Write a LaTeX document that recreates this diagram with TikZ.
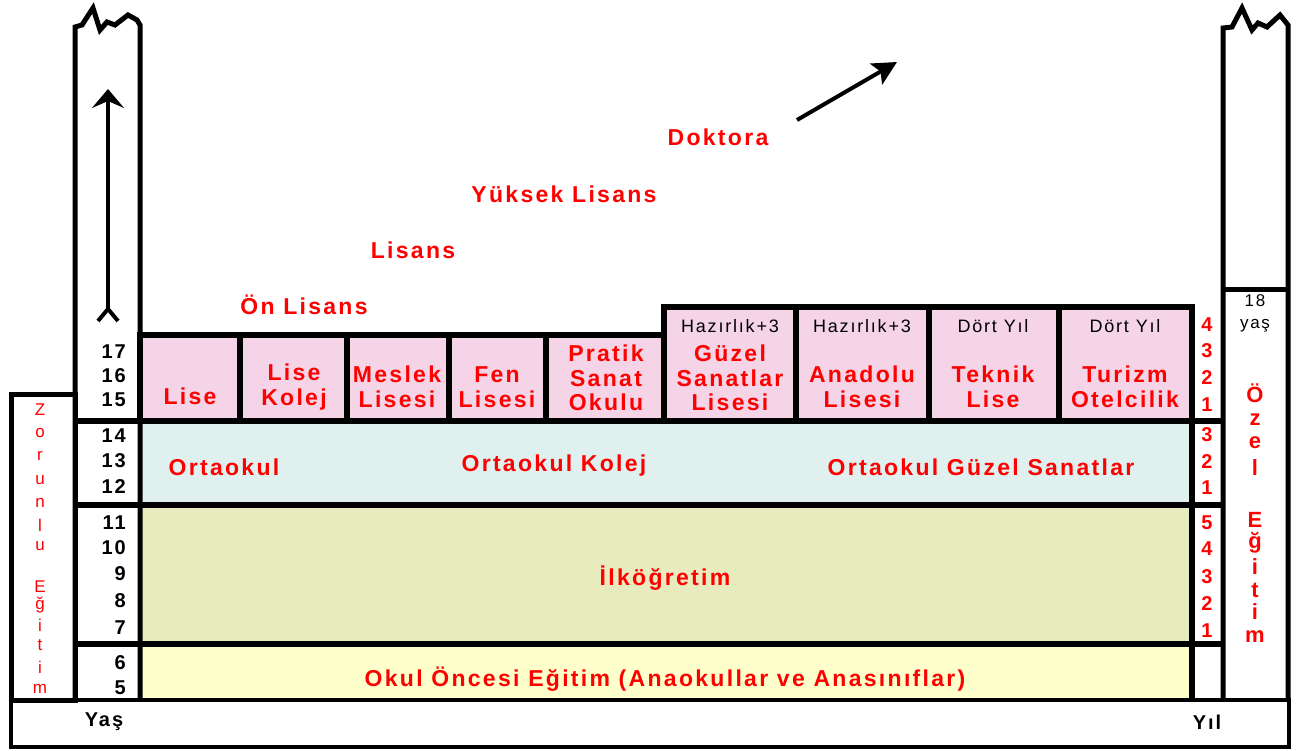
\documentclass[tikz,border=0pt]{standalone}
\usepackage{fontspec}
\setmainfont[LetterSpace=10]{Liberation Sans}
\usetikzlibrary{positioning,arrows.meta}
\definecolor{lisepink}{HTML}{F4D4E6}
\definecolor{ortamavi}{HTML}{E0F0EF}
\definecolor{ilkyesil}{HTML}{E8EBBD}
\definecolor{okulsari}{HTML}{FFFFCC}

\begin{document}
\begin{tikzpicture}[x=1pt,y=-1pt,on grid,node distance=56pt and 110pt,
    kutu/.style={draw,line width=6pt},
    lise/.style={kutu,fill=lisepink},
    etiket/.style={text=red,align=center,inner sep=0pt,
      font=\bfseries\fontsize{23}{24.5}\selectfont},
    sure/.style={align=center,inner sep=0pt,font=\fontsize{18}{22}\selectfont},
    yas/.style={anchor=east,inner sep=0pt,font=\bfseries\fontsize{20}{22}\selectfont},
    yil/.style={text=red,inner sep=0pt,font=\bfseries\fontsize{20}{22}\selectfont},
    zor/.style={text=red,inner sep=0pt,font=\fontsize{17}{18}\selectfont},
    ozel/.style={text=red,inner sep=0pt,font=\bfseries\fontsize{22}{22}\selectfont}
    ]
\useasboundingbox (0,0) rectangle (1296,751);

% renkli kusaklar
\fill[ortamavi] (140,421) rectangle (1192,505);
\fill[ilkyesil] (140,505) rectangle (1192,644);
\fill[okulsari] (140,644) rectangle (1192,700);

% lise kutulari
\foreach \a/\b in {140/239.5,239.5/346.5,346.5/448.5,448.5/545.5,545.5/664}
  \draw[lise] (\a,335) rectangle (\b,421);
\foreach \a/\b in {664/796,796/928.5,928.5/1058.5,1058.5/1192}
  \draw[lise] (\a,307) rectangle (\b,421);

\draw[kutu] (75,421) -- (1222,421) (75,505) -- (1222,505) (75,644) -- (1222,644);
\draw[kutu] (1192,421) -- (1192,700);
\draw[line width=5pt] (11,700) rectangle (75,394);
\draw[line width=4pt] (11,700) rectangle (1289,747);

% kirik uclu sutunlar
\draw[line width=5pt] (75,700) -- (75,27) -- (82,25) -- (93,8) -- (100,30) -- (107,22)
  -- (115,25) -- (128,15) -- (137,20) -- (140,25) -- (140,700);
\draw[line width=5pt] (1223,700) -- (1223,28) -- (1232,27) -- (1242,8) -- (1252,30)
  -- (1258,23) -- (1267,27) -- (1280,15) -- (1288,25) -- (1288,700);
\draw[line width=5pt] (1223,290) -- (1288,290);

\coordinate (okalt) at (108,323);
\coordinate (okust) at (108,89);
\draw[line width=4pt,{Straight Barb[reversed,length=12pt,width=20pt]}-{Stealth[length=19pt,width=32pt,inset=7pt]}] (okalt) -- (okust);

% yuksekogretim
\node[etiket] (onl) at (304,305) {Ön Lisans};
\node[etiket] (lis) [above right=55pt and 109pt of onl] {Lisans};
\node[etiket] (ylis) [above right=56pt and 151pt of lis] {Yüksek Lisans};
\node[etiket] (dok) [above right=57pt and 154pt of ylis] {Doktora};
\coordinate (dokbas) at (797,120);
\coordinate (dokuc) at (897,62);
\draw[line width=4pt,-{Stealth[length=24pt,width=24pt,inset=5pt]}] (dokbas) -- (dokuc);

% liseler
\node[etiket] (lise) at (190,396) {Lise};
\node[etiket] (kolej) at (294,387) {Lise\\Kolej};
\node[etiket] (meslek) at (397,387) {Meslek\\Lisesi};
\node[etiket] (fen) at (497,387) {Fen\\Lisesi};
\node[etiket] (pratik) at (606,378) {Pratik\\Sanat\\Okulu};
\node[sure] (hz1) at (730,326) {Hazırlık+3};
\node[etiket] (guzel) at (730,378) {Güzel\\Sanatlar\\Lisesi};
\node[sure] (hz2) at (862,326) {Hazırlık+3};
\node[etiket] (anadolu) at (862,387) {Anadolu\\Lisesi};
\node[sure] (dy1) at (993,326) {Dört Yıl};
\node[etiket] (teknik) at (993,387) {Teknik\\Lise};
\node[sure] (dy2) at (1125,326) {Dört Yıl};
\node[etiket] (turizm) at (1125,387) {Turizm\\Otelcilik};

% alt kusaklar
\node[etiket] (orta) at (224,467) {Ortaokul};
\node[etiket] (ortakolej) at (554,466) {Ortaokul Kolej};
\node[etiket] (ortaguzel) at (981,467) {Ortaokul Güzel Sanatlar};
\node[etiket] (ilk) at (665,578) {İlköğretim};
\node[etiket] (oncesi) at (665,679) {Okul Öncesi Eğitim (Anaokullar ve Anasınıflar)};

% yaslar ve yillar
\foreach \n/\y in {17/352,16/376,15/400,14/436,13/461,12/487,11/523,10/548,9/574,8/601,7/628,6/663,5/688}
  \node[yas] (yas\n) at (126,\y) {\n};
\foreach \n/\y [count=\i] in {4/325,3/351,2/378,1/405,3/435,2/462,1/488,5/523,4/549,3/577,2/604,1/631}
  \node[yil] (yil\i) at (1207,\y) {\n};
\node[yas,anchor=center] (yasbas) at (104,722) {Yaş};
\node[yas,anchor=center] (yilbas) at (1207,722) {Yıl};
\node[sure,font=\fontsize{17}{22}\selectfont] (onsekiz) at (1255,313) {18\\yaş};

% dikey yazilar
\foreach \c/\y in {Z/410,o/433,r/456,u/480,n/503,l/525,u/546,E/587,ğ/605,i/625,t/645,i/667,m/689}
  \node[zor] (zor\y) at (40,\y) {\c};
\foreach \c/\y in {Ö/393,z/420,e/443,l/468,E/520,ğ/543,i/567,t/590,i/612,m/637}
  \node[ozel] (ozel\y) at (1255,\y) {\c};
\end{tikzpicture}
\end{document}
